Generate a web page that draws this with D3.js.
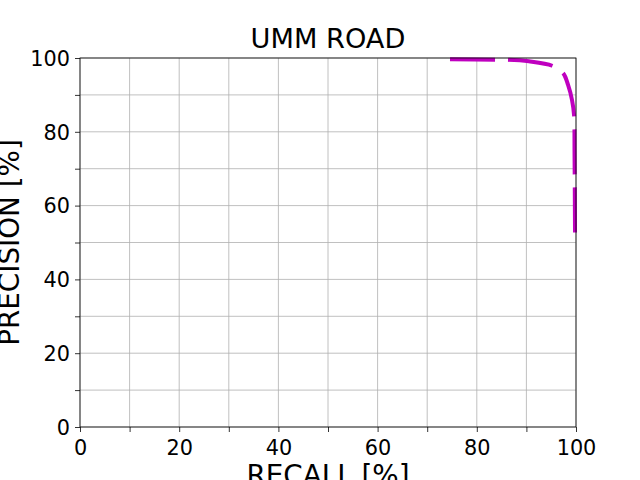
<!DOCTYPE html>
<html><head><meta charset="utf-8">
<script src="https://cdn.jsdelivr.net/npm/d3@7"></script>
<style>body{margin:0;background:#fff;overflow:hidden}svg{display:block}text{font-family:"DejaVu Sans",sans-serif;fill:#000}</style>
</head><body>
<script>
const title = "UMM ROAD";
const xLabel = "RECALL [%]";
const yLabel = "PRECISION [%]";
const recall =    [74.6, 83.7, 86.3, 90.5, 95.2, 97.4, 98.4, 99.2, 99.6, 99.7, 99.8];
const precision = [99.65, 99.5, 99.5, 99.1, 97.9, 95.9, 92.7, 88.6, 84.6, 75.0, 52.7];
const majorTicks = [0, 20, 40, 60, 80, 100];
const gridTicks = [0, 10, 20, 30, 40, 50, 60, 70, 80, 90, 100];

const W = 640, H = 480;
const L = 80, R = 576, T = 58, B = 427;
const svg = d3.select("body").append("svg").attr("width", W).attr("height", H);
const x = d3.scaleLinear().domain([0, 100]).range([L, R]);
const y = d3.scaleLinear().domain([0, 100]).range([B, T]);

// grid
svg.append("g").selectAll("line").data(gridTicks).join("line")
  .attr("x1", d => x(d)).attr("x2", d => x(d)).attr("y1", T).attr("y2", B)
  .attr("stroke", "#b0b0b0").attr("stroke-width", 0.8);
svg.append("g").selectAll("line").data(gridTicks).join("line")
  .attr("y1", d => y(d)).attr("y2", d => y(d)).attr("x1", L).attr("x2", R)
  .attr("stroke", "#b0b0b0").attr("stroke-width", 0.8);

// curve
svg.append("path").datum(precision)
  .attr("d", d3.line().x((d, i) => x(recall[i])).y(d => y(d)).curve(d3.curveCatmullRom))
  .attr("fill", "none").attr("stroke", "#bf00bf").attr("stroke-width", 4)
  .attr("stroke-dasharray", "45,13");

// axes
const xAxis = d3.axisBottom(x).tickValues(gridTicks).tickSize(5)
  .tickFormat(d => majorTicks.includes(d) ? d : "");
const yAxis = d3.axisLeft(y).tickValues(gridTicks).tickSize(5)
  .tickFormat(d => majorTicks.includes(d) ? d : "");
const gx = svg.append("g").attr("transform", `translate(0,${B})`).call(xAxis);
const gy = svg.append("g").attr("transform", `translate(${L},0)`).call(yAxis);
[gx, gy].forEach(g => {
  g.attr("font-size", null).attr("font-family", null);
  g.select(".domain").remove();
  g.selectAll("line").attr("stroke", "#000").attr("stroke-width", 0.8);
  g.selectAll("text").attr("font-size", 20.8).attr("font-family", "DejaVu Sans").attr("fill", "#000");
});
gx.selectAll("text").attr("y", 28).attr("dy", null);
gy.selectAll("text").attr("x", -10).attr("dy", "0.35em");

// frame
svg.append("rect").attr("x", L).attr("y", T).attr("width", R - L).attr("height", B - T)
  .attr("fill", "none").attr("stroke", "#000").attr("stroke-width", 0.8);

svg.append("text").attr("x", (L + R) / 2).attr("y", 48).attr("text-anchor", "middle")
  .attr("font-size", 27.2).text(title);
svg.append("text").attr("x", (L + R) / 2).attr("y", 485).attr("text-anchor", "middle")
  .attr("font-size", 27.8).text(xLabel);
svg.append("text").attr("transform", `translate(19,${(T + B) / 2}) rotate(-90)`)
  .attr("text-anchor", "middle").attr("font-size", 27.8).text(yLabel);
</script>
</body></html>
